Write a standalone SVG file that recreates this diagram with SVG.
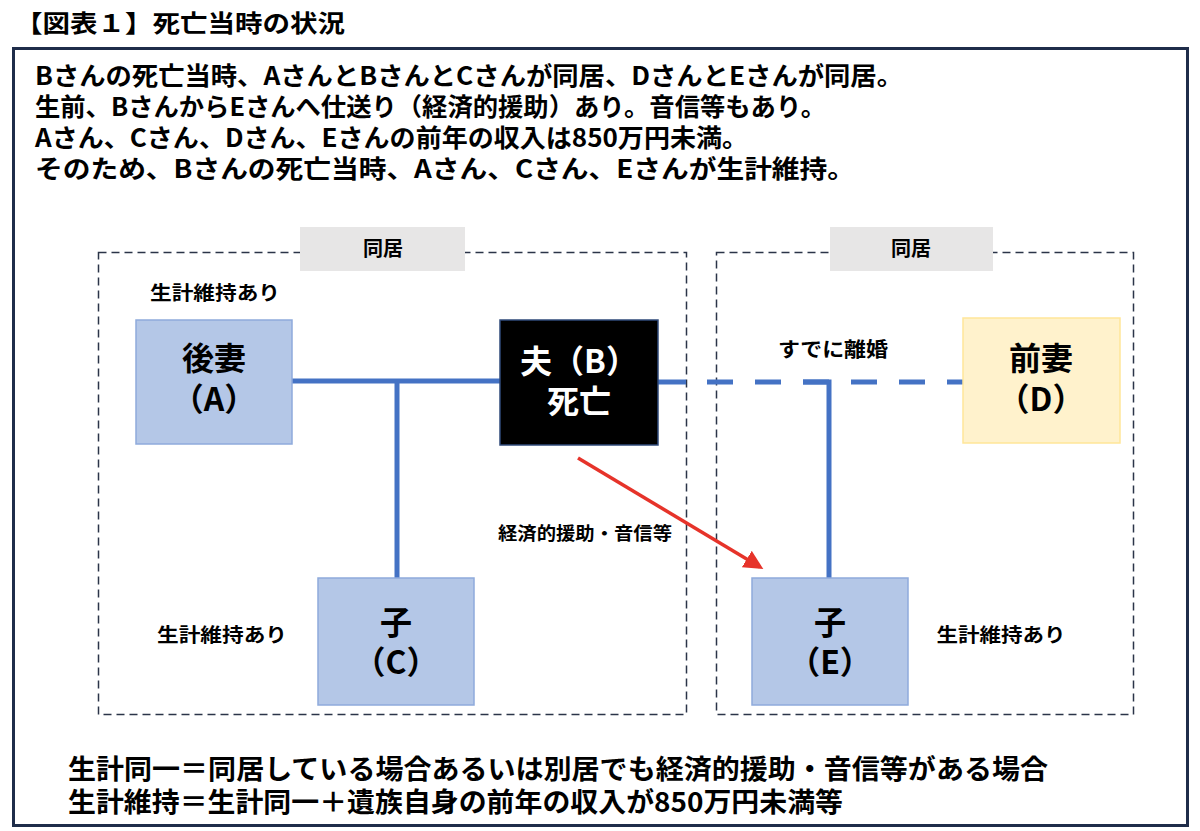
<svg xmlns="http://www.w3.org/2000/svg" width="1200" height="831" viewBox="0 0 1200 831">
<style>
text{font-family:"Noto Sans CJK JP","Noto Sans",sans-serif;font-weight:bold;fill:#000}
.hdr{font-size:25px}
.lbl{font-size:19px;text-anchor:middle}
.nt{font-size:32px;text-anchor:middle}
.box{fill:none;stroke:#2b3448;stroke-width:1.5;stroke-dasharray:8 5}
.tag{fill:#e7e6e6}
.blue{fill:#b4c7e7;stroke:#8faadc;stroke-width:1.5}
.ln{stroke:#4472c4;stroke-width:5;fill:none}
</style>
<defs>
<marker id="ah" viewBox="0 0 10 10" refX="8" refY="5" markerWidth="5.5" markerHeight="5.5" orient="auto" markerUnits="strokeWidth"><path d="M0,0 L10,5 L0,10 z" fill="#e6332a"/></marker>
</defs>
<rect width="1200" height="831" fill="#fff"/>
<text x="15" y="32" style="font-size:24px" textLength="330" lengthAdjust="spacingAndGlyphs">【図表１】死亡当時の状況</text>
<rect x="13.5" y="48.5" width="1174" height="777" fill="none" stroke="#1f2d4a" stroke-width="3"/>
<g id="header">
<text class="hdr" x="35" y="85" textLength="868" lengthAdjust="spacingAndGlyphs">Bさんの死亡当時、AさんとBさんとCさんが同居、DさんとEさんが同居。</text>
<text class="hdr" x="35" y="116" textLength="791" lengthAdjust="spacingAndGlyphs">生前、BさんからEさんへ仕送り（経済的援助）あり。音信等もあり。</text>
<text class="hdr" x="35" y="147" textLength="713" lengthAdjust="spacingAndGlyphs">Aさん、Cさん、Dさん、Eさんの前年の収入は850万円未満。</text>
<text class="hdr" x="35" y="178" textLength="820" lengthAdjust="spacingAndGlyphs">そのため、Bさんの死亡当時、Aさん、Cさん、Eさんが生計維持。</text>
</g>
<g id="household-left">
<rect class="box" x="98.5" y="252.5" width="588" height="462"/>
<rect class="tag" x="300" y="227" width="165" height="44"/>
<text class="lbl" x="383" y="256" style="font-size:20px">同居</text>
</g>
<g id="household-right">
<rect class="box" x="716.5" y="252.5" width="417" height="462"/>
<rect class="tag" x="830" y="227" width="163" height="44"/>
<text class="lbl" x="911" y="256" style="font-size:20px">同居</text>
</g>
<g id="connectors">
<line class="ln" x1="292" y1="381" x2="500" y2="381"/>
<line class="ln" x1="397" y1="381" x2="397" y2="578"/>
<line class="ln" x1="658" y1="382" x2="686" y2="382"/>
<line class="ln" x1="707" y1="382" x2="963" y2="382" stroke-dasharray="26 22"/>
<polyline class="ln" points="803,382 829,382 829,578"/>
<line x1="578" y1="458" x2="760" y2="567" stroke="#e6332a" stroke-width="3.5" marker-end="url(#ah)"/>
</g>
<g id="node-A">
<rect class="blue" x="136" y="320" width="156" height="124"/>
<text class="nt" x="214" y="370">後妻</text>
<text class="nt" x="214" y="411">（A）</text>
</g>
<g id="node-B">
<rect x="500" y="320" width="158" height="125" fill="#000" stroke="#2f4a7a" stroke-width="1.5"/>
<text class="nt" x="579" y="373" style="fill:#fff">夫（B）</text>
<text class="nt" x="579" y="413" style="fill:#fff">死亡</text>
</g>
<g id="node-D">
<rect x="963" y="318" width="157" height="125" fill="#fff2cc" stroke="#ffe699" stroke-width="1.5"/>
<text class="nt" x="1041" y="370">前妻</text>
<text class="nt" x="1041" y="411">（D）</text>
</g>
<g id="node-C">
<rect class="blue" x="318" y="578" width="156" height="127"/>
<text class="nt" x="396" y="634">子</text>
<text class="nt" x="396" y="674">（C）</text>
</g>
<g id="node-E">
<rect class="blue" x="752" y="578" width="156" height="127"/>
<text class="nt" x="830" y="634">子</text>
<text class="nt" x="830" y="674">（E）</text>
</g>
<g id="labels">
<text class="lbl" x="215" y="300" textLength="130" lengthAdjust="spacingAndGlyphs">生計維持あり</text>
<text class="lbl" x="222" y="642" textLength="130" lengthAdjust="spacingAndGlyphs">生計維持あり</text>
<text class="lbl" x="1001" y="642" textLength="129" lengthAdjust="spacingAndGlyphs">生計維持あり</text>
<text class="lbl" x="833" y="357" style="font-size:20px" textLength="110" lengthAdjust="spacingAndGlyphs">すでに離婚</text>
<text class="lbl" x="585" y="540" style="font-size:18px" textLength="174" lengthAdjust="spacingAndGlyphs">経済的援助・音信等</text>
</g>
<g id="footer">
<text x="68" y="779" style="font-size:27px" textLength="980" lengthAdjust="spacingAndGlyphs">生計同一＝同居している場合あるいは別居でも経済的援助・音信等がある場合</text>
<text x="68" y="812" style="font-size:27px" textLength="775" lengthAdjust="spacingAndGlyphs">生計維持＝生計同一＋遺族自身の前年の収入が850万円未満等</text>
</g>
</svg>
